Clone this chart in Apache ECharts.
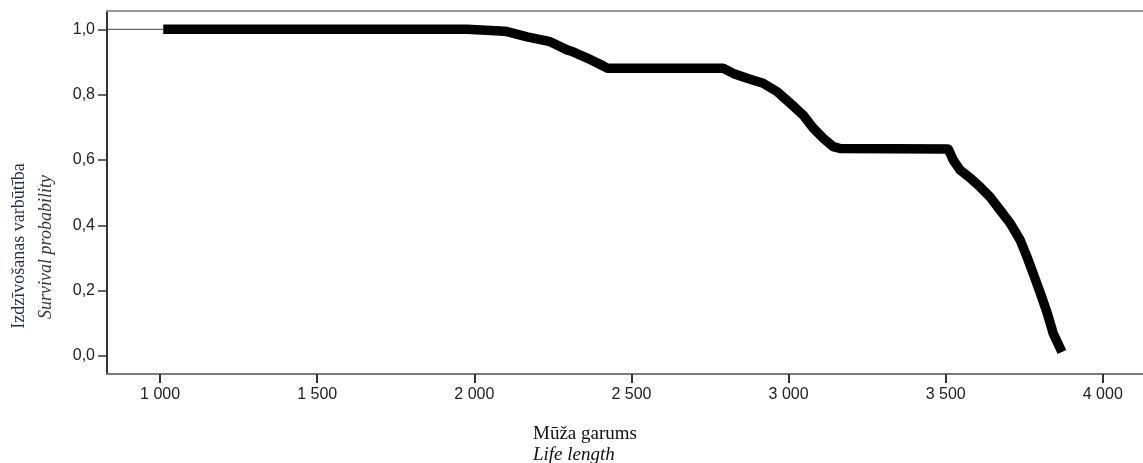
<!DOCTYPE html>
<html>
<head>
<meta charset="utf-8">
<script src="https://cdn.jsdelivr.net/npm/echarts@6/dist/echarts.min.js"></script>
<style>
html,body{margin:0;padding:0;background:#fff;}
#chart{width:1143px;height:463px;}
</style>
</head>
<body>
<div id="chart"></div>
<script>
// Survival curve (life length vs survival probability)
const lifeLength = [1010, 1977, 1980, 2082, 2104, 2168, 2241, 2295, 2314, 2359, 2410, 2423, 2792, 2824, 2868, 2919, 2964, 3005, 3046, 3078, 3110, 3142, 3164, 3508, 3524, 3546, 3578, 3610, 3641, 3673, 3705, 3737, 3759, 3778, 3801, 3823, 3842, 3870];
const survivalProb = [1.0, 1.0, 0.996, 0.995, 0.993, 0.977, 0.962, 0.937, 0.931, 0.912, 0.888, 0.881, 0.881, 0.865, 0.850, 0.835, 0.809, 0.774, 0.738, 0.698, 0.667, 0.641, 0.635, 0.634, 0.600, 0.569, 0.545, 0.517, 0.487, 0.447, 0.407, 0.355, 0.303, 0.254, 0.193, 0.132, 0.070, 0.012];
const xTicks = [1000, 1500, 2000, 2500, 3000, 3500, 4000];
const yTicks = [0, 0.2, 0.4, 0.6, 0.8, 1.0];
const xTitle = ['Mūža garums', 'Life length'];
const yTitle = ['Izdzīvošanas varbūtība', 'Survival probability'];

const X_MIN = 831, X_MAX = 4128, Y_MIN = -0.055, Y_MAX = 1.056;

const curve = lifeLength.map((t, i) => [t, survivalProb[i]]);
const lead = [[X_MIN, survivalProb[0]], [lifeLength[0], survivalProb[0]]];

const fmtX = v => { const s = String(Math.round(v)); return s.length > 3 ? s.slice(0, s.length - 3) + ' ' + s.slice(-3) : s; };
const fmtY = v => v.toFixed(1).replace('.', ',');

const chart = echarts.init(document.getElementById('chart'), null, {renderer: 'canvas'});
const sans = 'Liberation Sans, Arial, sans-serif';
const serif = 'Liberation Serif, Times New Roman, serif';

chart.setOption({
  animation: false,
  backgroundColor: '#fff',
  grid: {left: 107, top: 11, right: 0, bottom: 89, containLabel: false},
  xAxis: [{
    type: 'value', min: X_MIN, max: X_MAX, position: 'bottom',
    axisLine: {show: true, onZero: false, lineStyle: {color: '#7a7a7a', width: 2}},
    axisTick: {show: true, customValues: xTicks, length: 9, lineStyle: {color: '#333', width: 2}},
    axisLabel: {show: true, customValues: xTicks, formatter: fmtX, margin: 13, color: '#222', fontFamily: sans, fontSize: 16},
    splitLine: {show: false}
  }, {
    type: 'value', min: X_MIN, max: X_MAX, position: 'top',
    axisLine: {show: true, onZero: false, lineStyle: {color: '#999', width: 2}},
    axisTick: {show: false}, axisLabel: {show: false}, splitLine: {show: false}
  }],
  yAxis: {
    type: 'value', min: Y_MIN, max: Y_MAX,
    axisLine: {show: true, onZero: false, lineStyle: {color: '#333', width: 2}},
    axisTick: {show: true, customValues: yTicks, length: 9, lineStyle: {color: '#333', width: 1.5}},
    axisLabel: {show: true, customValues: yTicks, formatter: fmtY, margin: 12, color: '#222', fontFamily: sans, fontSize: 16},
    splitLine: {show: false}
  },
  series: [{
    type: 'line', data: lead, showSymbol: false, symbol: 'none',
    lineStyle: {color: '#444', width: 1}, z: 2
  }, {
    type: 'line', data: curve, showSymbol: false, symbol: 'none',
    lineStyle: {color: '#000', width: 9.5, join: 'round', cap: 'butt'}, z: 3
  }],
  graphic: [
    {type: 'text', x: 533, y: 434, style: {text: xTitle[0], font: '19px ' + serif, fill: '#111', textAlign: 'left', textVerticalAlign: 'middle'}},
    {type: 'text', x: 533, y: 455, style: {text: xTitle[1], font: 'italic 19px ' + serif, fill: '#111', textAlign: 'left', textVerticalAlign: 'middle'}},
    {type: 'text', x: 19, y: 246, rotation: Math.PI / 2, style: {text: yTitle[0], font: '18px ' + serif, fill: '#1f2d50', textAlign: 'center', textVerticalAlign: 'middle'}},
    {type: 'text', x: 46, y: 247, rotation: Math.PI / 2, style: {text: yTitle[1], font: 'italic 18px ' + serif, fill: '#3a3430', textAlign: 'center', textVerticalAlign: 'middle'}}
  ]
});
</script>
</body>
</html>
